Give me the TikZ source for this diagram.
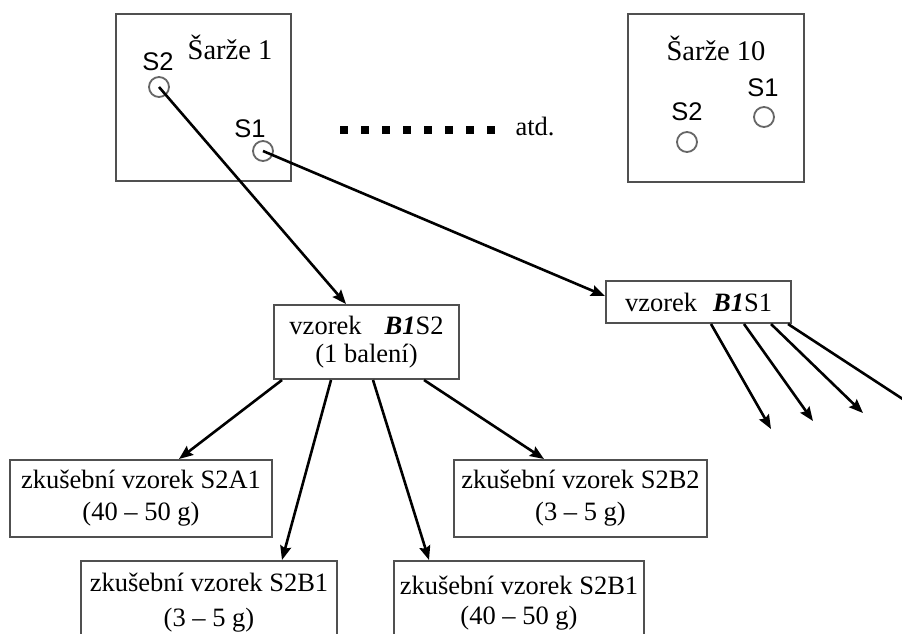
\documentclass[tikz,border=0pt]{standalone}
\usepackage{fontspec}
\setmainfont{Liberation Serif}
\newfontfamily\labelfont{Liberation Sans}
\usetikzlibrary{arrows.meta,calc}

\definecolor{frame}{HTML}{505050}
\definecolor{ring}{HTML}{666666}

\tikzset{
  panel/.style={draw=frame, line width=2pt, rectangle, inner sep=0pt},
  samplebox/.style={draw=frame, line width=2pt, rectangle, inner sep=0pt,
    align=center, font=\fontsize{26.5}{32}\selectfont},
  heading/.style={inner sep=0pt, font=\fontsize{28.5}{32}\selectfont},
  spot/.style={draw=ring, line width=1.8pt, circle, minimum size=20pt, inner sep=0pt},
  spotlabel/.style={inner sep=0pt, font=\labelfont\fontsize{25.5}{30}\selectfont},
  link/.style={draw=black, line width=2.6pt,
    -{Stealth[length=14pt, width=11pt, inset=2pt]}},
}

\begin{document}
\begin{tikzpicture}[x=1pt, y=-1pt]
  \clip (0,0) rectangle (902,633);
  \fill[white] (0,0) rectangle (902,633);

  % batches
  \node[panel, minimum width=175pt, minimum height=167pt] (batchA) at (203.5,97.5) {};
  \node[panel, minimum width=176pt, minimum height=168pt] (batchB) at (716,98) {};
  \node[heading] (titleA) at (230,47) {Šarže 1};
  \node[heading] (titleB) at (716,48) {Šarže 10};

  % sampling spots
  \node[spot] (a2) at (159,87) {};
  \node[spot] (a1) at (263,151) {};
  \node[spot] (b1) at (764,117) {};
  \node[spot] (b2) at (687,142) {};
  \node[spotlabel] (la2) at (158,62) {S2};
  \node[spotlabel] (la1) at (250,129) {S1};
  \node[spotlabel] (lb1) at (763,88) {S1};
  \node[spotlabel] (lb2) at (687,112) {S2};

  % ellipsis between batches
  \foreach \i in {0,...,7}
    \fill[black] ({340+21*\i},126) rectangle ++(8,8);
  \node[heading, font=\fontsize{26.5}{32}\selectfont] (etc) at (535,126) {atd.};

  % samples
  \node[samplebox, minimum width=185pt, minimum height=42pt] (sampA1) at (698.5,302)
    {vzorek\hspace{16pt}\textbf{\textit{B1}}S1};
  \node[samplebox, minimum width=185pt, minimum height=74pt,
        font=\fontsize{26.5}{28}\selectfont] (sampA2) at (366.5,342)
    {vzorek\hspace{23pt}\textbf{\textit{B1}}S2\\(1 balení)};

  % test portions
  \node[samplebox, minimum width=262pt, minimum height=77pt] (pA1) at (141,498.5)
    {zkušební vzorek S2A1\\(40 – 50 g)};
  \node[samplebox, minimum width=253pt, minimum height=77pt] (pB2) at (580.5,498.5)
    {zkušební vzorek S2B2\\(3 – 5 g)};
  \node[samplebox, minimum width=256pt, minimum height=84pt,
        font=\fontsize{26.5}{35}\selectfont] (pB1a) at (209,603)
    {zkušební vzorek S2B1\\(3 – 5 g)};
  \node[samplebox, minimum width=250pt, minimum height=84pt,
        font=\fontsize{26.5}{30}\selectfont] (pB1b) at (519,603)
    {zkušební vzorek S2B1\\(40 – 50 g)};

  % open ends of the split from sample S1
  \coordinate (e1) at (771,429);
  \coordinate (e2) at (813,421);
  \coordinate (e3) at (863,413);
  \coordinate (e4) at (918,409);

  % connectors
  \draw[link] (a2.center) -- ($(sampA2.north west)+(73,0)$);
  \draw[link] (a1.center) -- ($(sampA1.west)+(0,-6)$);

  \draw[link] ($(sampA2.south west)+(9,0)$)   -- ($(pA1.north west)+(170,0)$);
  \draw[link] ($(sampA2.south west)+(58,0)$)  -- ($(pB1a.north west)+(202,0)$);
  \draw[link] ($(sampA2.south west)+(100,0)$) -- ($(pB1b.north west)+(36,0)$);
  \draw[link] ($(sampA2.south west)+(151,0)$) -- ($(pB2.north west)+(91,0)$);

  \draw[link] ($(sampA1.south west)+(106,0)$) -- (e1);
  \draw[link] ($(sampA1.south west)+(139,0)$) -- (e2);
  \draw[link] ($(sampA1.south west)+(166,0)$) -- (e3);
  \draw[link] ($(sampA1.south west)+(183,0)$) -- (e4);
\end{tikzpicture}
\end{document}
